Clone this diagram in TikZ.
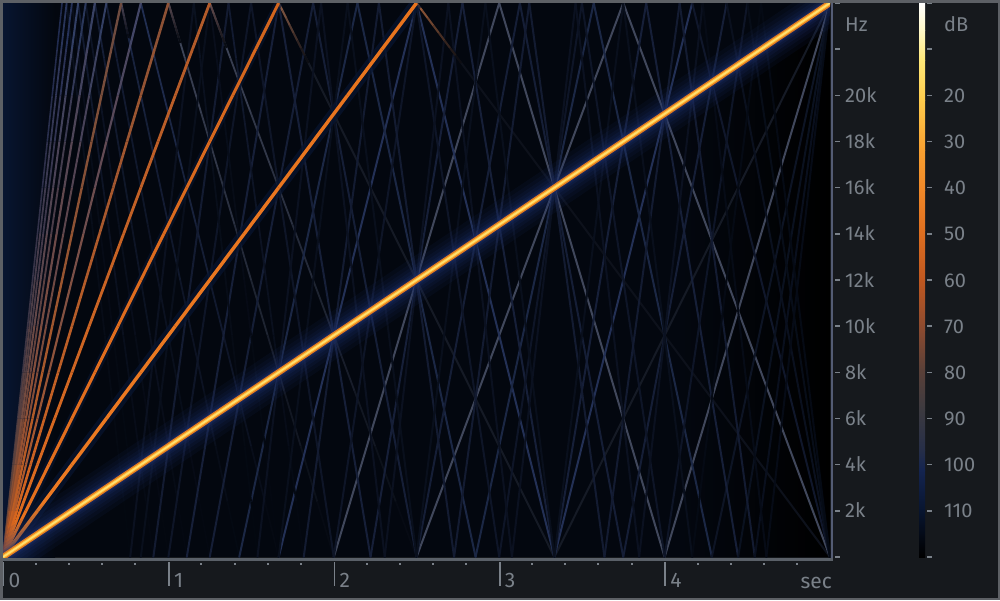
\documentclass[tikz,border=0pt]{standalone}
\usepackage{fontspec}
\setmainfont{Fira Sans}
\usetikzlibrary{calc}

\definecolor{panel}{HTML}{16191D}
\definecolor{frameline}{HTML}{5D6065}
\definecolor{axistext}{HTML}{7A8189}
\definecolor{axisline}{HTML}{5A6068}
\definecolor{plotbg}{HTML}{03070F}
\definecolor{haze}{HTML}{081530}
\definecolor{glowblue}{HTML}{1E3270}
\definecolor{foldblue}{HTML}{34467A}
\definecolor{foldgray}{HTML}{545C74}
\definecolor{sweepcore}{HTML}{FFE27A}
\definecolor{sweepmid}{HTML}{FFC23C}
\definecolor{sweepedge}{HTML}{E27A20}
% harmonic colours, bottom and top of the rising part
\definecolor{riseA2}{HTML}{EC7A22}\definecolor{riseB2}{HTML}{E8741E}
\definecolor{riseA3}{HTML}{E8721E}\definecolor{riseB3}{HTML}{D2651E}
\definecolor{riseA4}{HTML}{E06C1E}\definecolor{riseB4}{HTML}{B05A2A}
\definecolor{riseA5}{HTML}{D8661E}\definecolor{riseB5}{HTML}{8A5036}
\definecolor{riseA6}{HTML}{C05C22}\definecolor{riseB6}{HTML}{3C4468}
\definecolor{riseA7}{HTML}{C86020}\definecolor{riseB7}{HTML}{6A4A40}
\definecolor{riseA8}{HTML}{A85224}\definecolor{riseB8}{HTML}{2E3E66}
\definecolor{riseA9}{HTML}{B05624}\definecolor{riseB9}{HTML}{334066}
\definecolor{riseA10}{HTML}{8A4A2A}\definecolor{riseB10}{HTML}{26365C}
\definecolor{riseA11}{HTML}{905030}\definecolor{riseB11}{HTML}{2E3E66}
\definecolor{riseA12}{HTML}{6A4434}\definecolor{riseB12}{HTML}{22305A}
\definecolor{riseA13}{HTML}{6A4434}\definecolor{riseB13}{HTML}{26345C}
\definecolor{riseA14}{HTML}{503C3C}\definecolor{riseB14}{HTML}{1E2A50}
% colour bar stops
\definecolor{bar0}{HTML}{FFFFFF}\definecolor{bar1}{HTML}{FFF8C8}
\definecolor{bar2}{HTML}{FFE878}\definecolor{bar3}{HTML}{FFCC4C}
\definecolor{bar4}{HTML}{F8A030}\definecolor{bar5}{HTML}{F08828}
\definecolor{bar6}{HTML}{E07020}\definecolor{bar7}{HTML}{C05820}
\definecolor{bar8}{HTML}{8A4A30}\definecolor{bar9}{HTML}{5A4038}
\definecolor{bar10}{HTML}{3C3A40}\definecolor{bar11}{HTML}{262E48}
\definecolor{bar12}{HTML}{142450}\definecolor{bar13}{HTML}{081530}
\definecolor{bar14}{HTML}{000000}

% line drawn in pieces that go from colour #5 to colour #6
\newcommand{\gradseg}[8]{%
  \foreach \i in {1,...,#8}{
    \pgfmathsetmacro{\sa}{(\i-1)/#8}
    \pgfmathsetmacro{\sb}{\i/#8}
    \pgfmathsetmacro{\pc}{100*(\i-0.5)/#8}
    \draw[line width=#7, color=#6!\pc!#5]
      ($(#1,#2)!\sa!(#3,#4)$) -- ($(#1,#2)!\sb!(#3,#4)$);
  }}

\begin{document}
\begin{tikzpicture}[x=1pt, y=-1pt,
  foldline/.style = {line width=2pt, line cap=round},
  hztext/.style = {text=axistext, inner sep=0pt, anchor=base west,
    font=\fontsize{20}{24}\selectfont},
  sectext/.style = {text=axistext, inner sep=0pt,
    font=\fontsize{21}{24}\selectfont},
  minortick/.style = {draw=axistext, line width=1.4pt},
  majortick/.style = {draw=axistext, line width=1.6pt}]

\useasboundingbox (0,0) rectangle (1000,600);
\fill[panel] (0,0) rectangle (1000,600);

% plot area
\fill[plotbg] (3,3) rectangle (830,557);
\begin{scope}
  \clip (3,3) rectangle (830,557);
  \shade[left color=haze, right color=plotbg] (3,3) rectangle (55,557);
  \begin{scope}
    \clip (3,557) -- (830,3) -- (830,557) -- cycle;
    \shade[left color=plotbg, right color=black] (680,3) rectangle (830,557);
  \end{scope}

  % folded harmonics: early folds fade out downwards, late ones are dim
  \foreach \k/\op/\fc in {2/12/foldgray, 3/22/foldgray, 4/75/foldgray,
      5/75/foldgray, 6/65/foldblue, 7/50/foldblue, 8/36/foldblue,
      9/38/foldblue, 10/22/foldblue, 11/32/foldblue, 12/12/foldblue,
      13/16/foldblue}{
    \colorlet{foldc}{\fc!\op!plotbg}
    \foreach \j in {2,...,\k}{
      \pgfmathsetmacro{\xa}{3+827*(\j-1)/\k}
      \pgfmathsetmacro{\xb}{3+827*\j/\k}
      \pgfmathtruncatemacro{\late}{(\xa>680 && \k>5) ? 1 : 0}
      \ifnum\late=1 \colorlet{segc}{foldc!40!plotbg}\else \colorlet{segc}{foldc}\fi
      \pgfmathtruncatemacro{\up}{mod(\j,2)}
      \ifnum\up=1
        \draw[foldline, draw=segc] (\xa,557) -- (\xb,3);
      \else
        \pgfmathtruncatemacro{\early}{\xa<250 ? 1 : 0}
        \ifnum\early=1
          \gradseg{\xa}{3}{\xb}{557}{segc}{plotbg}{1.8pt}{10}
        \else
          \draw[foldline, draw=segc] (\xa,3) -- (\xb,557);
        \fi
      \fi
    }
  }

  % bright start of each reflection
  \foreach \k/\len/\rc in {2/60/A0603C, 3/60/906048, 4/45/6A5050,
      5/40/5A4A50, 7/35/504858}{
    \definecolor{reflc}{HTML}{\rc}
    \pgfmathsetmacro{\xp}{3+827/\k}
    \pgfmathsetmacro{\xq}{\xp+\len/554*827/\k}
    \pgfmathsetmacro{\yq}{3+\len}
    \gradseg{\xp}{3}{\xq}{\yq}{reflc}{plotbg}{2pt}{8}
  }

  % rising harmonics
  \draw[line width=12pt, draw=haze, draw opacity=.7] (3,557) -- (416.5,3);
  \draw[line width=8pt, draw=haze, draw opacity=.6] (3,557) -- (278.7,3);
  \foreach \k/\w in {14/1.6, 13/1.8, 12/1.8, 11/2.0, 10/1.9, 9/2.2, 8/2.0,
      7/2.4, 6/2.2, 5/2.6, 4/2.8, 3/3.0, 2/3.4}{
    \pgfmathsetmacro{\xp}{3+827/\k}
    \gradseg{3}{557}{\xp}{3}{riseA\k}{riseB\k}{\w pt}{12}
  }

  % fundamental sweep with its glow
  \foreach \w/\o in {42/.10, 34/.10, 27/.12, 21/.14, 15/.18, 11/.25, 8.5/.35}{
    \draw[line width=\w pt, draw=glowblue, draw opacity=\o] (3,557) -- (830,3);
  }
  \draw[line width=6.2pt, draw=sweepedge] (3,557) -- (830,3);
  \draw[line width=3.4pt, draw=sweepmid] (3,557) -- (830,3);
  \draw[line width=1.3pt, draw=sweepcore] (3,557) -- (830,3);
\end{scope}

% axis lines
\draw[line width=2pt, draw=foldgray] (832,3) -- (832,560);
\draw[line width=3pt, draw=axisline] (3,559.5) -- (833,559.5);

% frequency axis and colour bar
\foreach \ya/\yb/\n in {3/30/0, 30/60/1, 60/100/2, 100/150/3, 150/190/4,
    190/230/5, 230/280/6, 280/330/7, 330/370/8, 370/410/9, 410/450/10,
    450/470/11, 470/510/12, 510/557/13}{
  \pgfmathtruncatemacro{\m}{\n+1}
  \shade[top color=bar\n, bottom color=bar\m] (919,\ya) rectangle (925,\yb);
}
\foreach \f in {0,2,...,24}{
  \pgfmathsetmacro{\yf}{557-554*\f/24}
  \draw[minortick] (835,\yf) -- (840,\yf);
  \draw[minortick] (927,\yf) -- (932,\yf);
}
\foreach \f in {2,4,...,20}{
  \pgfmathsetmacro{\yf}{557-554*\f/24+7}
  \pgfmathtruncatemacro{\db}{20+5*(20-\f)}
  \node[hztext] (hz\f) at (845,\yf) {\f k};
  \node[hztext] (db\f) at (944,\yf) {\db};
}
\node[hztext] (hzunit) at (845,31) {Hz};
\node[hztext] (dbunit) at (944,31) {dB};

% time axis
\foreach \s in {0,...,4}{
  \pgfmathsetmacro{\xs}{3.5+165.4*\s}
  \draw[majortick] (\xs,562) -- (\xs,586);
  \node[sectext, anchor=base west] (sec\s) at (\xs+5,587) {\s};
}
\foreach \m in {1,...,24}{
  \pgfmathtruncatemacro{\r}{mod(\m,5)}
  \ifnum\r=0\else
    \pgfmathsetmacro{\xm}{3+165.4*\m/5}
    \fill[axistext] (\xm-1,562.5) rectangle (\xm+1,564.5);
  \fi
}
\node[sectext, anchor=base east] (secunit) at (832,588) {sec};

\draw[line width=2.5pt, draw=frameline] (1.25,1.25) rectangle (998.75,598.75);
\end{tikzpicture}
\end{document}
